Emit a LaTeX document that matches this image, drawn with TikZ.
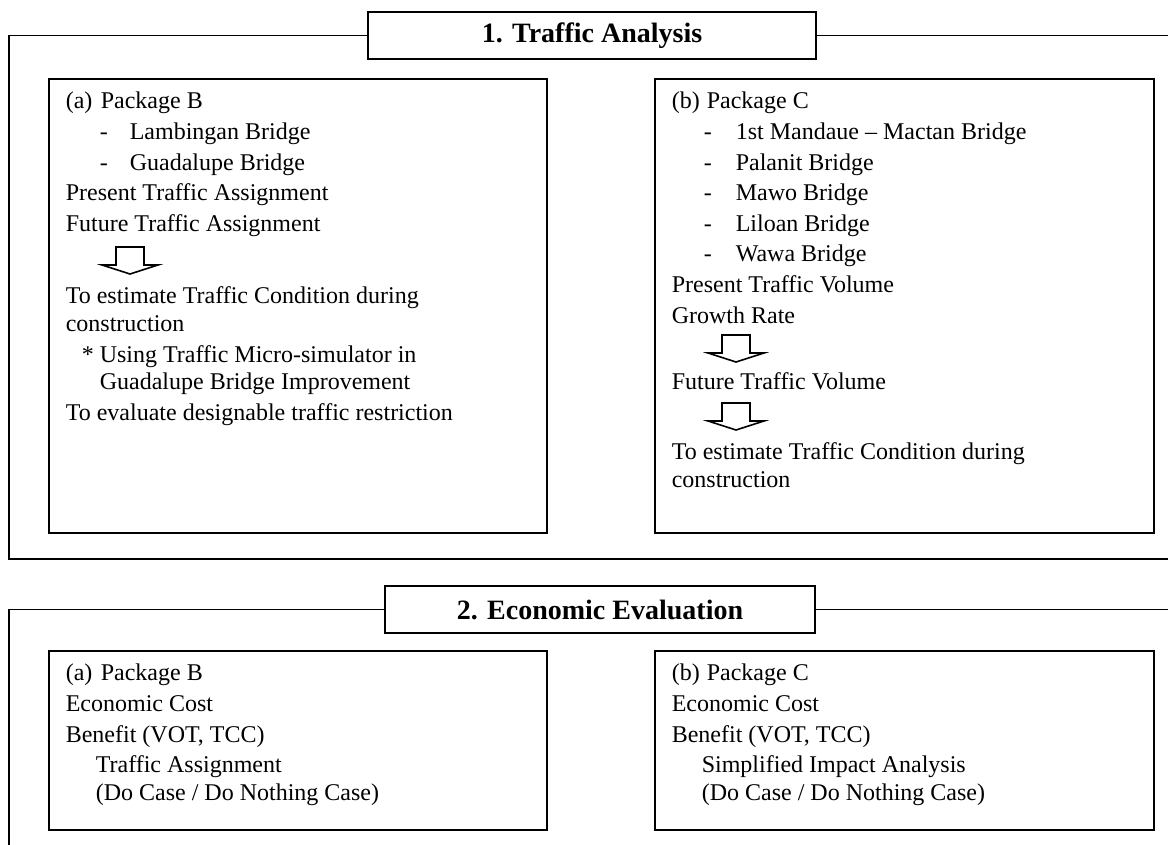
\documentclass[tikz,border=0pt]{standalone}
\usepackage{fontspec}
\setmainfont{Liberation Serif}
\usetikzlibrary{positioning}

\begin{document}
\begin{tikzpicture}[
   x=0.5pt, y=-0.5pt, line width=0.8pt,
   headbox/.style={draw, fill=white, inner sep=0pt, minimum height=23.5pt,
               font=\fontsize{14}{16}\selectfont\bfseries},
   panel/.style={draw, anchor=north west, inner sep=0pt, minimum height=227pt},
   ecopanel/.style={draw, anchor=north west, inner sep=0pt, minimum height=89.5pt},
   txt/.style={anchor=north west, inner sep=0pt, align=left,
               font=\fontsize{12}{13.8}\selectfont},
   blockdown/.pic={\draw[fill=white] (-14,0) -- (14,0) -- (14,18) -- (28,18) -- (0,27)
               -- (-28,18) -- (-14,18) -- cycle;}]
  \useasboundingbox (0,0) rectangle (1168,845);

  \node[headbox, minimum width=224pt] (ta) at (592,35.5) {1. Traffic Analysis};
  \draw (ta.west) -- (9,35.5) |- (1168,559);
  \draw (ta.east) -- (1168,35.5);

  \node[panel, minimum width=249pt] (pkgb) at (48,78) {};
  \node[panel, minimum width=249.5pt] (pkgc) at (654,78) {};

  \node[txt] (pkgb-in) at (65,88.7) {\strut\makebox[17.5pt][l]{(a)}Package B\\[1.5pt]
     \hspace*{17pt}\makebox[15pt][l]{-}Lambingan Bridge\\[1.5pt]
     \hspace*{17pt}\makebox[15pt][l]{-}Guadalupe Bridge\\[1.5pt]
     Present Traffic Assignment\\[1.5pt]
     Future Traffic Assignment};
  \pic at (130,247) {blockdown};
  \node[txt] (pkgb-out) at (65,283.7) {\strut To estimate Traffic Condition during\\
     construction\\[1.5pt]
     \hspace*{8pt}* Using Traffic Micro-simulator in\\
     \hspace*{17pt}Guadalupe Bridge Improvement\\[1.5pt]
     To evaluate designable traffic restriction};

  \node[txt] (pkgc-in) at (671,88.7) {\strut\makebox[17.5pt][l]{(b)}Package C\\[1.5pt]
     \hspace*{16pt}\makebox[16pt][l]{-}1st Mandaue -- Mactan Bridge\\[1.5pt]
     \hspace*{16pt}\makebox[16pt][l]{-}Palanit Bridge\\[1.5pt]
     \hspace*{16pt}\makebox[16pt][l]{-}Mawo Bridge\\[1.5pt]
     \hspace*{16pt}\makebox[16pt][l]{-}Liloan Bridge\\[1.5pt]
     \hspace*{16pt}\makebox[16pt][l]{-}Wawa Bridge\\[1.5pt]
     Present Traffic Volume\\[1.5pt]
     Growth Rate};
  \pic at (736,335) {blockdown};
  \node[txt] (pkgc-mid) at (671,369.7) {\strut Future Traffic Volume};
  \pic at (736,403) {blockdown};
  \node[txt] (pkgc-out) at (671,439.7) {\strut To estimate Traffic Condition during\\
     construction};

  \node[headbox, minimum width=215pt] (te) at (600,609.5) {2. Economic Evaluation};
  \draw (te.west) -- (9,609.5) -- (9,845);
  \draw (te.east) -- (1168,609.5);

  \node[ecopanel, minimum width=249pt] (ecob) at (48,650) {};
  \node[ecopanel, minimum width=249.5pt] (ecoc) at (654,650) {};

  \node[txt] (ecob-in) at (65,660.7) {\strut\makebox[17.5pt][l]{(a)}Package B\\[1.5pt]
     Economic Cost\\[1.5pt]
     Benefit (VOT, TCC)\\[1.5pt]
     \hspace*{15pt}Traffic Assignment\\
     \hspace*{15pt}(Do Case / Do Nothing Case)};
  \node[txt] (ecoc-in) at (671,660.7) {\strut\makebox[17.5pt][l]{(b)}Package C\\[1.5pt]
     Economic Cost\\[1.5pt]
     Benefit (VOT, TCC)\\[1.5pt]
     \hspace*{15pt}Simplified Impact Analysis\\
     \hspace*{15pt}(Do Case / Do Nothing Case)};
\end{tikzpicture}
\end{document}
